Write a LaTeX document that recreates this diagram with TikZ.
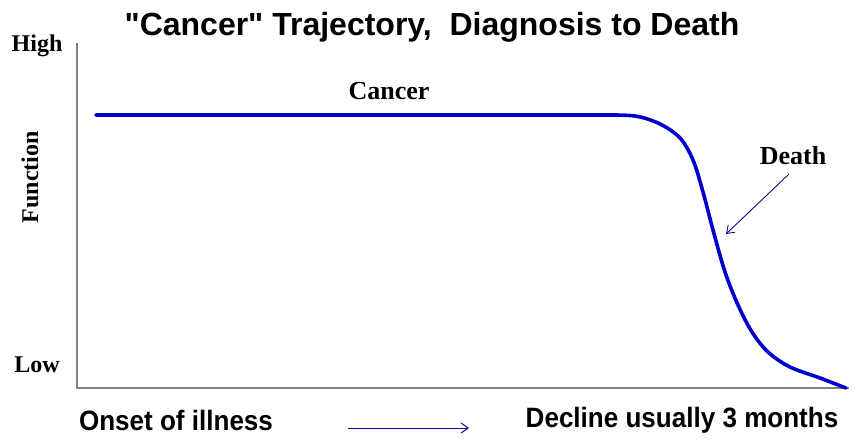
\documentclass[tikz,border=0pt]{standalone}
\usepackage{fontspec}
\setmainfont{Liberation Serif}
\setsansfont{Liberation Sans}
\newfontfamily\titlefont[Ligatures=TeXOff]{Liberation Sans}
\usetikzlibrary{arrows.meta}
\definecolor{curveblue}{RGB}{0,0,204}
\definecolor{arrowblue}{RGB}{10,10,150}
\definecolor{axisgray}{RGB}{128,128,128}
\tikzset{
  serlab/.style={font=\fontsize{24}{28}\selectfont\rmfamily\bfseries, inner sep=0pt},
  bigser/.style={font=\fontsize{26}{30}\selectfont\rmfamily\bfseries, inner sep=0pt},
  sanlab/.style={font=\fontsize{28}{32}\selectfont\sffamily\bfseries, inner sep=0pt},
  axisline/.style={draw=axisgray, line width=1.3pt},
  thinarrow/.style={draw=arrowblue, line width=1pt, -{Straight Barb[length=7pt,width=10pt]}},
}
\begin{document}
\begin{tikzpicture}[x=1pt,y=-1pt]
\useasboundingbox (0,0) rectangle (858,440);
% axes
\coordinate (ytop) at (77,43);
\coordinate (orig) at (77,388);
\coordinate (xend) at (849,388);
\draw[axisline] (ytop) -- (orig) -- (xend);
% title
\node[font=\fontsize{32}{36}\selectfont\titlefont\bfseries, inner sep=0pt] (title) at (432,27) {"Cancer" Trajectory,\ \ Diagnosis to Death};
% axis labels
\node[serlab] (high) at (37,46) {High};
\node[serlab] (low) at (37,365) {Low};
\node[serlab, rotate=90] (func) at (30,177) {Function};
% curve
\draw[curveblue, line width=3.6pt, line cap=round]
  (96,115) -- (600,115)
  plot[smooth, tension=0.55] coordinates {(600,115) (635,116) (660,124) (680,138) (693,160) (703,192) (713,230) (725,272) (738,305) (752,332) (768,352) (790,367) (820,378) (846,388)};
\node[bigser] (cancer) at (389,91) {Cancer};
\node[bigser] (death) at (793,156) {Death};
\coordinate (dstart) at (789,174);
\coordinate (dend) at (726,234);
\draw[thinarrow, line width=0.9pt] (dstart) -- (dend);
% bottom
\node[sanlab, xscale=0.93] (onset) at (176,420) {Onset of illness};
\node[sanlab, xscale=0.93] (decline) at (682,420) {Decline usually 3 months};
\coordinate (bstart) at (348,428);
\coordinate (bend) at (469,428);
\draw[thinarrow] (bstart) -- (bend);
\end{tikzpicture}
\end{document}
